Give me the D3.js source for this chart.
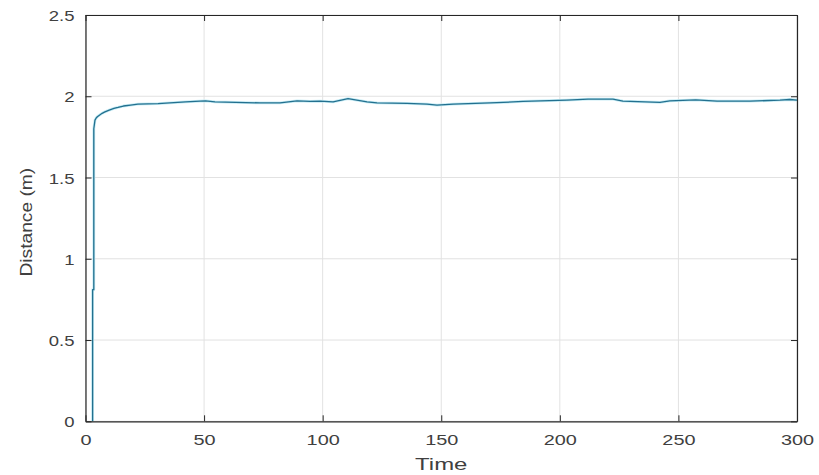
<!DOCTYPE html>
<html>
<head>
<meta charset="utf-8">
<script src="https://cdn.jsdelivr.net/npm/d3@7"></script>
<style>
  html, body { margin: 0; padding: 0; background: #fff; }
  svg { display: block; }
  text { font-family: "Liberation Sans", Arial, sans-serif; fill: #404040; }
</style>
</head>
<body>
<svg id="chart" width="819" height="475"></svg>
<script>
// ---- data ----
const timeValues = [3, 3, 3.5, 3.5, 4, 4.5, 5, 6, 7, 8.2, 10, 12, 13.7, 16, 19, 22.1, 30.6, 42.2, 48.3, 50.6, 54.6, 73.6, 82, 89.2, 94.7, 98.9, 104.4, 110.7, 118.7, 122.9, 135.6, 144, 148.2, 155, 170.6, 184.5, 203, 211.9, 222.4, 226.6, 242.2, 246.4, 257.3, 266.3, 280.2, 292.8, 297, 300];
const distanceValues = [0, 0.81, 0.81, 1.80, 1.853, 1.866, 1.874, 1.885, 1.895, 1.904, 1.915, 1.925, 1.931, 1.940, 1.946, 1.951, 1.955, 1.965, 1.970, 1.971, 1.966, 1.959, 1.959, 1.972, 1.968, 1.970, 1.966, 1.986, 1.966, 1.959, 1.956, 1.951, 1.945, 1.951, 1.959, 1.968, 1.976, 1.982, 1.982, 1.970, 1.962, 1.972, 1.978, 1.970, 1.970, 1.976, 1.980, 1.976];
const xTicks = [0, 50, 100, 150, 200, 250, 300];
const yTicks = [0, 0.5, 1, 1.5, 2, 2.5];
const xLabel = "Time";
const yLabel = "Distance (m)";

// ---- layout ----
const svg = d3.select("#chart");
const L = 85.5, R = 797, T = 15, B = 421.3;
const x = d3.scaleLinear().domain([0, 300]).range([L, R]);
const y = d3.scaleLinear().domain([0, 2.5]).range([B, T]);
const axisColor = "#262626";

svg.append("rect").attr("width", 819).attr("height", 475).attr("fill", "#fff");

// grid
const grid = svg.append("g");
grid.selectAll("line.gx").data(xTicks).join("line")
  .attr("x1", d => x(d)).attr("x2", d => x(d)).attr("y1", T).attr("y2", B)
  .attr("stroke", "#e2e2e2").attr("stroke-width", 1);
grid.selectAll("line.gy").data(yTicks).join("line")
  .attr("y1", d => y(d)).attr("y2", d => y(d)).attr("x1", L).attr("x2", R)
  .attr("stroke", "#e2e2e2").attr("stroke-width", 1);

// line
const line = d3.line().x((d, i) => x(timeValues[i])).y(d => y(d));
svg.append("path").datum(distanceValues)
  .attr("d", line).attr("fill", "none")
  .attr("stroke", "#c6ecf5").attr("stroke-width", 2.8).attr("stroke-linejoin", "round");
svg.append("path").datum(distanceValues)
  .attr("d", line).attr("fill", "none")
  .attr("stroke", "#23708f").attr("stroke-width", 1.3).attr("stroke-linejoin", "round");

// axes (ticks pointing inward)
function styleAxis(g) {
  g.select(".domain").attr("stroke", axisColor).attr("stroke-width", 1.2);
  g.selectAll(".tick line").attr("stroke", axisColor).attr("stroke-width", 1);
}
const gB = svg.append("g").attr("transform", `translate(0,${B})`)
  .call(d3.axisBottom(x).tickValues(xTicks).tickSizeInner(-6).tickSizeOuter(0).tickPadding(0))
  .call(styleAxis);
gB.selectAll(".tick text").attr("y", 24).attr("dy", 0)
  .attr("font-size", 14).attr("fill", "#404040")
  .attr("font-family", "Liberation Sans, Arial, sans-serif");
const gT = svg.append("g").attr("transform", `translate(0,${T})`)
  .call(d3.axisTop(x).tickValues(xTicks).tickSizeInner(-6).tickSizeOuter(0).tickFormat(""))
  .call(styleAxis);
const gL = svg.append("g").attr("transform", `translate(${L},0)`)
  .call(d3.axisLeft(y).tickValues(yTicks).tickSizeInner(-6).tickSizeOuter(0).tickPadding(0).tickFormat(d3.format("")))
  .call(styleAxis);
gL.selectAll(".tick text").attr("x", -11).attr("dy", 0).attr("y", 5.5)
  .attr("font-size", 14).attr("fill", "#404040")
  .attr("font-family", "Liberation Sans, Arial, sans-serif");
const gR = svg.append("g").attr("transform", `translate(${R},0)`)
  .call(d3.axisRight(y).tickValues(yTicks).tickSizeInner(-6).tickSizeOuter(0).tickFormat(""))
  .call(styleAxis);

// stretch tick labels horizontally to match reference
function stretch(sel, f) {
  sel.each(function() {
    const w = this.getComputedTextLength();
    d3.select(this).attr("textLength", w * f).attr("lengthAdjust", "spacingAndGlyphs");
  });
}
stretch(gB.selectAll(".tick text"), 1.42);
stretch(gL.selectAll(".tick text"), 1.32);

// axis labels
const xl = svg.append("text").attr("x", (L + R) / 2).attr("y", 470)
  .attr("text-anchor", "middle").attr("font-size", 16.5).text(xLabel);
stretch(xl, 1.45);
const yl = svg.append("text")
  .attr("transform", `translate(32,${(T + B) / 2 + 4}) rotate(-90)`)
  .attr("text-anchor", "middle").attr("font-size", 16).text(yLabel);
stretch(yl, 1.2);
</script>
</body>
</html>
